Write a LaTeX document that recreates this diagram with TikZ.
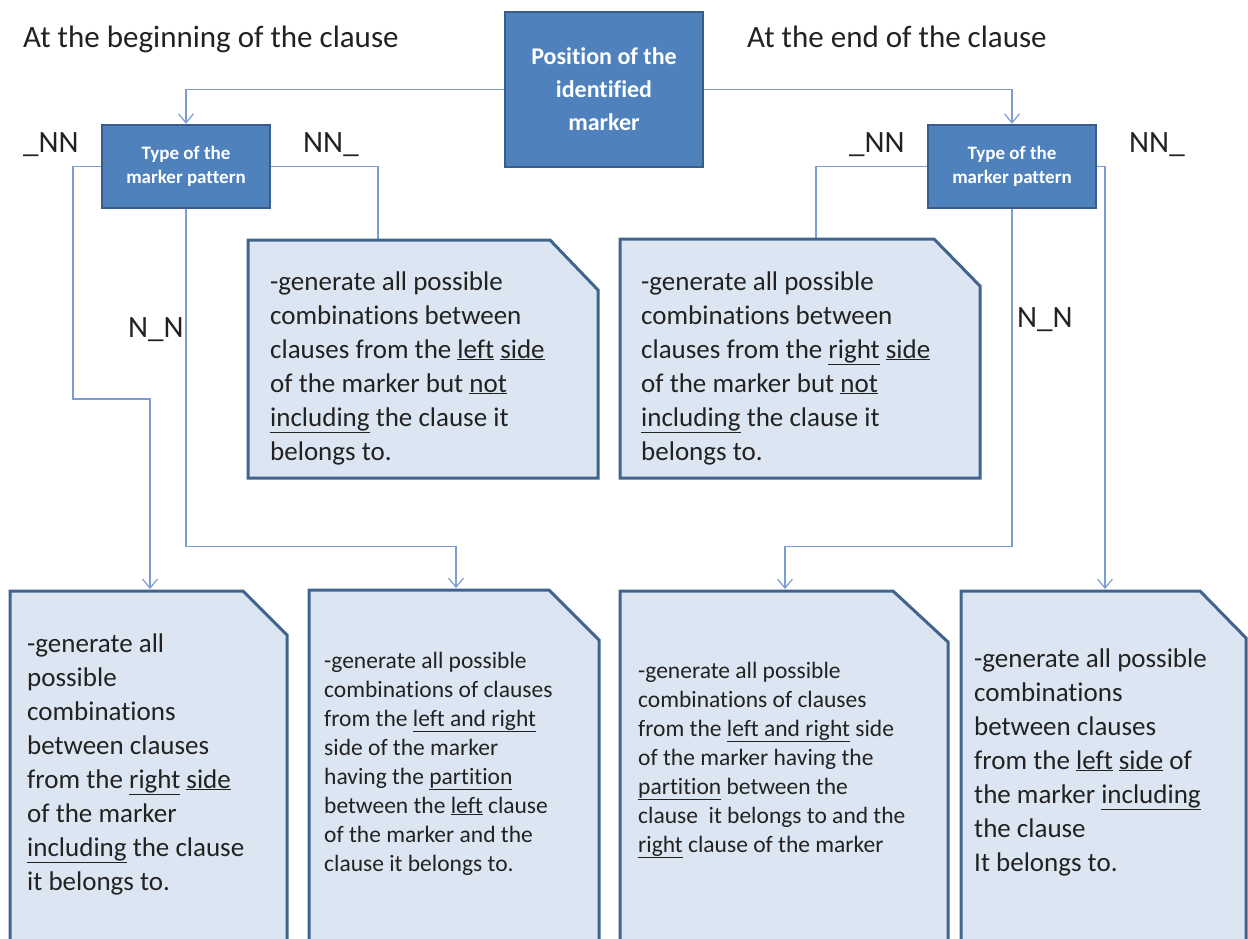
\documentclass[tikz,border=0pt]{standalone}
\usepackage{fontspec}
\setmainfont{Carlito}[Ligatures=NoCommon]
\usetikzlibrary{arrows.meta}
\definecolor{boxblue}{HTML}{4F81BD}
\definecolor{boxedge}{HTML}{385D8A}
\definecolor{notefill}{HTML}{DCE6F2}
\definecolor{noteedge}{HTML}{41648F}
\definecolor{wirecol}{HTML}{7B9DD1}
\definecolor{ink}{HTML}{222222}
\newcommand{\lines}[1]{\begin{tabular}[t]{@{}l@{}}#1\end{tabular}}
\begin{document}
\begin{tikzpicture}[x=1pt,y=-1pt,
  headbox/.style={draw=boxedge, fill=boxblue, line width=2.5pt, text=white, align=center, inner sep=0pt},
  notebox/.style={draw=noteedge, fill=notefill, line width=3pt, line join=miter},
  wire/.style={draw=wirecol, line width=1.4pt},
  arr/.style={wire, -{Straight Barb[length=9pt,width=15pt,line width=1.2pt]}},
  lbl/.style={anchor=base west, inner sep=0pt, text=ink, font=\fontsize{31}{36}\selectfont},
  bigtxt/.style={anchor=base west, inner sep=0pt, text=ink, font=\fontsize{27}{34}\selectfont},
  smalltxt/.style={anchor=base west, inner sep=0pt, text=ink, font=\fontsize{23.5}{29}\selectfont},
]
\useasboundingbox (0,0) rectangle (1248,938);
\fill[white] (0,0) rectangle (1248,938);

% decision boxes
\node[headbox, minimum width=198pt, minimum height=155pt,
      font=\bfseries\fontsize{24}{33}\selectfont] (pos) at (604,89.5)
      {Position of the\\identified\\marker};
\node[headbox, minimum width=168pt, minimum height=83pt,
      font=\bfseries\fontsize{19}{24}\selectfont] (typeL) at (186,166.5)
      {Type of the\\marker pattern};
\node[headbox, minimum width=168pt, minimum height=83pt,
      font=\bfseries\fontsize{19}{24}\selectfont] (typeR) at (1012,166.5)
      {Type of the\\marker pattern};

% entry points on the top edges of the note boxes
\coordinate (n1top) at (378,240);
\coordinate (n2top) at (816,239);
\coordinate (aTop) at (150,589);
\coordinate (bTop) at (456,588);
\coordinate (cTop) at (785,589);
\coordinate (dTop) at (1105,589);

% connectors
\draw[arr] (pos.west) -| (typeL.north);
\draw[arr] (pos.east) -| (typeR.north);
\draw[wire] (typeL.east) -| (n1top);
\draw[arr] (typeL.west) -| (73,399) -| (aTop);
\draw[arr] (typeL.south) -- ++(0,337) -| (bTop);
\draw[wire] (typeR.west) -| (n2top);
\draw[arr] (typeR.south) -- ++(0,337) -| (cTop);
\draw[arr] (typeR.east) -| (dTop);

% note boxes with a cut corner
\draw[notebox] (248,240) -- (550,240) -- (598,290) -- (598,478) -- (248,478) -- cycle;
\draw[notebox] (620,239) -- (934,239) -- (980,286) -- (980,478) -- (620,478) -- cycle;
\draw[notebox] (10,591) -- (243,591) -- (287,635) -- (287,960) -- (10,960) -- cycle;
\draw[notebox] (309,590) -- (549,590) -- (599,640) -- (599,960) -- (309,960) -- cycle;
\draw[notebox] (620,591) -- (893,591) -- (948,642) -- (948,960) -- (620,960) -- cycle;
\draw[notebox] (961,591) -- (1200,591) -- (1246,638) -- (1246,960) -- (961,960) -- cycle;

% branch labels
\node[lbl] (begin) at (23,47) {At the beginning of the clause};
\node[lbl] (end) at (747,47) {At the end of the clause};
\node[lbl] (lnn1) at (23,152) {\_NN};
\node[lbl] (lnn2) at (303,152) {NN\_};
\node[lbl] (lnn3) at (128,337) {N\_N};
\node[lbl] (rnn1) at (849,152) {\_NN};
\node[lbl] (rnn2) at (1129,152) {NN\_};
\node[lbl] (rnn3) at (1017,327) {N\_N};

% note texts
\node[bigtxt] (t1) at (270,290) {\lines{-generate all possible\\
combinations between\\
clauses from the \underline{left} \underline{side}\\
of the marker but \underline{not}\\
\underline{including} the clause it\\
belongs to.}};
\node[bigtxt] (t2) at (641,290) {\lines{-generate all possible\\
combinations between\\
clauses from the \underline{right} \underline{side}\\
of the marker but \underline{not}\\
\underline{including} the clause it\\
belongs to.}};
\node[bigtxt] (ta) at (27,652) {\lines{-generate all\\
possible\\
combinations\\
between clauses\\
from the \underline{right} \underline{side}\\
of the marker\\
\underline{including} the clause\\
it belongs to.}};
\node[smalltxt] (tb) at (324,668) {\lines{-generate all possible\\
combinations of clauses\\
from the \underline{left and right}\\
side of the marker\\
having the \underline{partition}\\
between the \underline{left} clause\\
of the marker and the\\
clause it belongs to.}};
\node[smalltxt] (tc) at (638,678) {\lines{-generate all possible\\
combinations of clauses\\
from the \underline{left and right} side\\
of the marker having the\\
\underline{partition} between the\\
clause~ it belongs to and the\\
\underline{right} clause of the marker}};
\node[bigtxt] (td) at (974,667) {\lines{-generate all possible\\
combinations\\
between clauses\\
from the \underline{left} \underline{side} of\\
the marker \underline{including}\\
the clause\\
It belongs to.}};
\end{tikzpicture}
\end{document}
